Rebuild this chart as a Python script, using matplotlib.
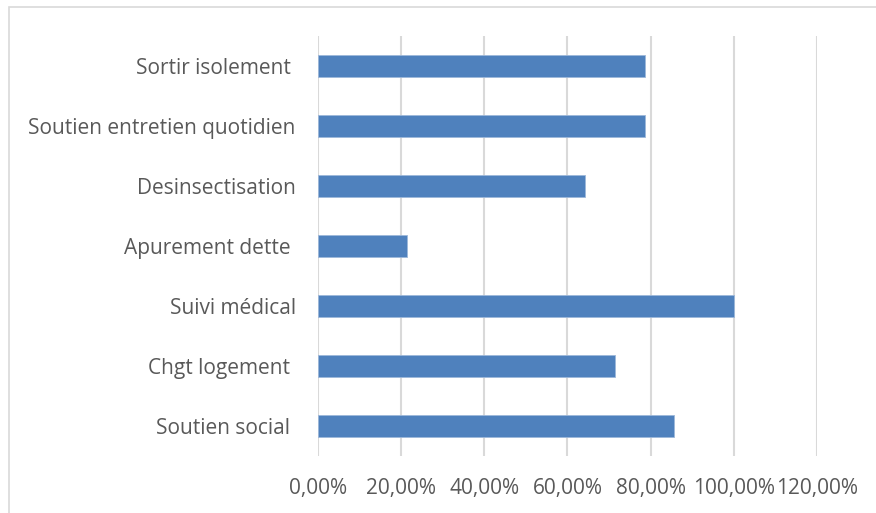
import matplotlib.pyplot as plt
from matplotlib.patches import Rectangle
from matplotlib.ticker import FuncFormatter

# Données : part des ménages par type d'accompagnement
categories = ['Soutien social ', 'Chgt logement ', 'Suivi médical', 'Apurement dette ',
              'Desinsectisation', 'Soutien entretien quotidien', 'Sortir isolement ']
valeurs = [0.8571, 0.7143, 1.0, 0.2143, 0.6429, 0.7857, 0.7857]
x_ticks = [0, 0.2, 0.4, 0.6, 0.8, 1.0, 1.2]

plt.rcParams['font.family'] = ['Open Sans', 'DejaVu Sans']
gris = '#595959'

fig = plt.figure(figsize=(8.76, 5.13), dpi=100)
ax = fig.add_axes([0.363, 0.111, 0.5696, 0.8188])

# Cadre clair autour du graphique
fig.patches.append(Rectangle((9 / 876, -0.01), 1.0, 1.0 - 7 / 513 + 0.01,
                             transform=fig.transFigure, fill=False,
                             edgecolor='#D9D9D9', linewidth=1.2))

ax.barh(range(len(categories)), valeurs, height=0.36, color='#4F81BD',
        edgecolor='#9DB8DA', linewidth=0.6, zorder=3)

ax.set_xlim(0, 1.2)
ax.set_ylim(-0.5, len(categories) - 0.5)
ax.set_xticks(x_ticks)
ax.xaxis.set_major_formatter(FuncFormatter(lambda v, p: f'{v * 100:.2f}%'.replace('.', ',')))
ax.set_yticks(range(len(categories)))
ax.set_yticklabels(categories)

ax.grid(axis='x', color='#D9D9D9', linewidth=1.5, zorder=0)
for s in ax.spines.values():
    s.set_visible(False)
ax.tick_params(axis='both', length=0, labelsize=15, labelcolor=gris)
ax.tick_params(axis='x', pad=16)
ax.tick_params(axis='y', pad=16)

fig.savefig('out.png', dpi=100)
